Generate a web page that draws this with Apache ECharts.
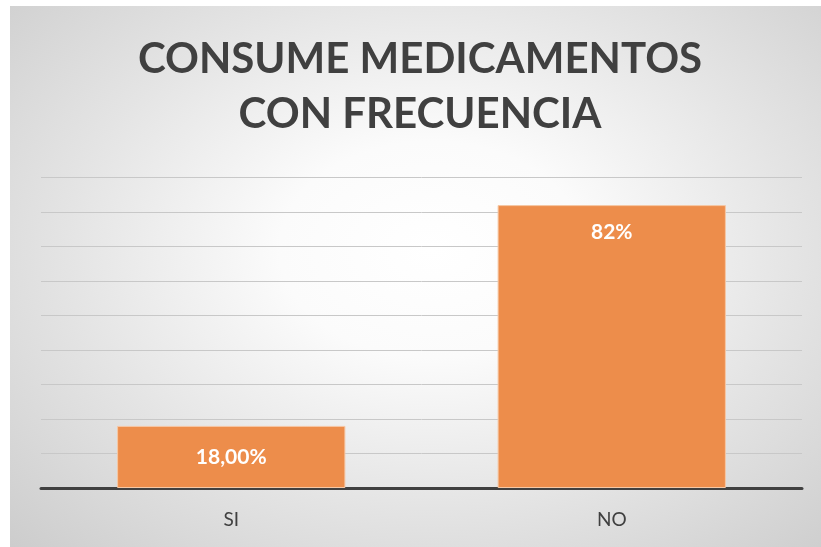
<!DOCTYPE html>
<html>
<head>
<meta charset="utf-8">
<script src="https://cdn.jsdelivr.net/npm/echarts@6/dist/echarts.min.js"></script>
<style>
  html, body { margin: 0; padding: 0; background: #ffffff; }
  #panel {
    position: absolute; left: 10px; top: 6px; width: 811px; height: 541px;
    background: radial-gradient(ellipse 75% 80% at 52% 45%, #ffffff 0%, #fbfbfb 25%, #e4e4e4 60%, #cbcbcb 100%);
  }
  #chart { position: absolute; left: 0; top: 0; width: 821px; height: 547px; }
</style>
</head>
<body>
<div id="panel"></div>
<div id="chart"></div>
<script>
// datos del gráfico
const categorias = ['SI', 'NO'];
const valores = [0.18, 0.82];
const etiquetas = ['18,00%', '82%'];

const chart = echarts.init(document.getElementById('chart'));
chart.setOption({
  backgroundColor: 'transparent',
  title: {
    text: 'CONSUME MEDICAMENTOS\nCON FRECUENCIA',
    left: 415,
    textAlign: 'center',
    top: 27,
    textStyle: {
      fontFamily: 'Lato',
      fontWeight: 'bold',
      fontSize: 42,
      lineHeight: 55,
      color: '#404040'
    }
  },
  grid: { left: 41, right: 19, top: 177.5, bottom: 59 },
  xAxis: {
    type: 'category',
    data: categorias,
    axisLine: { lineStyle: { color: '#404040', width: 3 } },
    axisTick: { show: false },
    axisLabel: { color: '#404040', fontSize: 19, fontFamily: 'Lato', margin: 22 }
  },
  yAxis: {
    type: 'value',
    min: 0,
    max: 0.9,
    interval: 0.1,
    axisLabel: { show: false },
    axisLine: { show: false },
    axisTick: { show: false },
    splitLine: { lineStyle: { color: '#c8c8c8', width: 1 } }
  },
  series: [{
    type: 'bar',
    barWidth: '60%',
    data: valores.map((v, i) => ({
      value: v,
      label: {
        position: i === 0 ? 'inside' : 'insideTop',
        distance: 17,
        formatter: etiquetas[i]
      }
    })),
    itemStyle: { color: '#ED8D4B', borderColor: '#F6C8A5', borderWidth: 1 },
    label: {
      show: true,
      color: '#ffffff',
      fontWeight: 'bold',
      fontSize: 21,
      fontFamily: 'Lato'
    }
  }]
});
</script>
</body>
</html>
